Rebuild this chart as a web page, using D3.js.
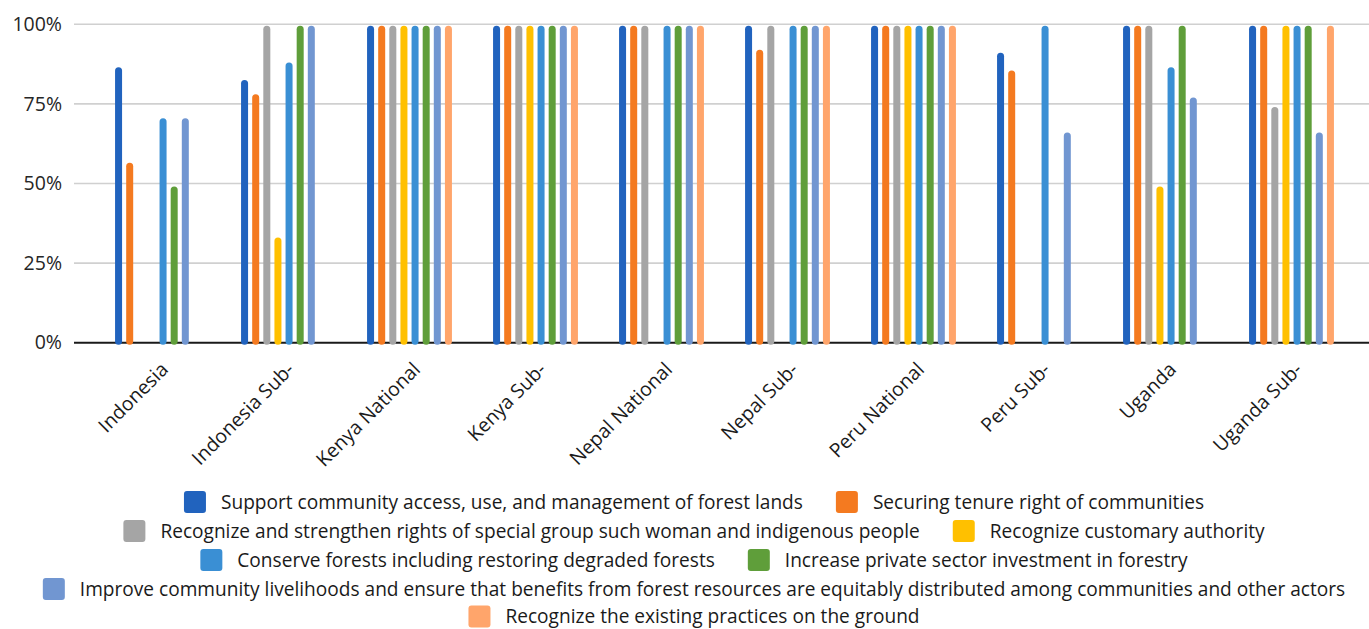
<!DOCTYPE html>
<html>
<head>
<meta charset="utf-8">
<script src="https://cdn.jsdelivr.net/npm/d3@7"></script>
<style>
  html, body { margin: 0; padding: 0; background: #fff; }
  svg { display: block; font-family: "Open Sans", "Noto Sans", sans-serif; }
</style>
</head>
<body>
<svg id="chart" width="1369" height="629"></svg>
<script>
// Sites (x categories)
const categories = [
  "Indonesia", "Indonesia Sub-", "Kenya National", "Kenya Sub-", "Nepal National",
  "Nepal Sub-", "Peru National", "Peru Sub-", "Uganda", "Uganda Sub-"
];

// Policy objectives (series)
const seriesNames = [
  "Support community access, use, and management of forest lands",
  "Securing tenure right of communities",
  "Recognize and strengthen rights of special group such woman and indigenous people",
  "Recognize customary authority",
  "Conserve forests including restoring degraded forests",
  "Increase private sector investment in forestry",
  "Improve community livelihoods and ensure that benefits from forest resources are equitably distributed among communities and other actors",
  "Recognize the existing practices on the ground"
];

const seriesColors = ["#2163be", "#f47a20", "#a5a5a5", "#ffc000", "#3a8fd4", "#5f9e3a", "#7196d1", "#ffa56b"];

// Share of respondents per site, one array per objective (order follows categories)
const supportAccess   = [0.87, 0.83, 1, 1, 1, 1,    1, 0.915, 1,    1];
const securingTenure  = [0.57, 0.785, 1, 1, 1, 0.925, 1, 0.86, 1,    1];
const specialGroups   = [0,    1,    1, 1, 1, 1,    1, 0,    1,    0.745];
const customaryAuth   = [0,    0.335, 1, 1, 0, 0,    1, 0,    0.495, 1];
const conserveForests = [0.71, 0.885, 1, 1, 1, 1,    1, 1,    0.87, 1];
const privateInvest   = [0.495, 1,   1, 1, 1, 1,    1, 0,    1,    1];
const livelihoods     = [0.71, 1,    1, 1, 1, 1,    1, 0.665, 0.775, 0.665];
const existingPract   = [0,    0,    1, 1, 1, 1,    1, 0,    0,    1];

const seriesValues = [supportAccess, securingTenure, specialGroups, customaryAuth,
                      conserveForests, privateInvest, livelihoods, existingPract];

const yTicks = [0, 0.25, 0.5, 0.75, 1];

// Legend rows (indices into seriesNames)
const legendRows = [[0, 1], [2, 3], [4, 5], [6], [7]];

const svg = d3.select("#chart");

const gridLeft = 74, gridRight = 1369;
const x0 = d3.scaleBand().domain(categories).range([94.5, 1354.5]);
const x1 = d3.scaleBand().domain(d3.range(seriesNames.length))
  .range([-44.5, 44.5]).paddingInner(0.37).paddingOuter(0.185);
const y = d3.scaleLinear().domain([0, 1]).range([342.7, 24.3]);

// Gridlines
svg.append("g").selectAll("line")
  .data(yTicks.filter(t => t > 0))
  .join("line")
  .attr("x1", gridLeft).attr("x2", gridRight)
  .attr("y1", d => y(d)).attr("y2", d => y(d))
  .attr("stroke", "#d0d0d0").attr("stroke-width", 1.6);

// Y axis labels
const yAxis = d3.axisLeft(y).tickValues(yTicks).tickFormat(d3.format(".0%")).tickSize(0).tickPadding(0);
const yg = svg.append("g").attr("transform", "translate(62,0)").call(yAxis);
yg.select(".domain").remove();
yg.selectAll("text")
  .attr("font-size", 19.5).attr("fill", "#262626")
  .attr("font-family", "'Open Sans', sans-serif");

// Baseline
svg.append("line")
  .attr("x1", gridLeft).attr("x2", gridRight)
  .attr("y1", y(0)).attr("y2", y(0))
  .attr("stroke", "#1a1a1a").attr("stroke-width", 2);

// Bars
const groups = svg.append("g").selectAll("g")
  .data(categories)
  .join("g")
  .attr("transform", d => `translate(${x0(d) + x0.bandwidth() / 2},0)`);

groups.selectAll("rect")
  .data((c, ci) => seriesValues.map((vals, si) => ({ si, v: vals[ci] })).filter(d => d.v > 0))
  .join("rect")
  .attr("x", d => x1(d.si))
  .attr("width", x1.bandwidth())
  .attr("y", d => y(d.v) + 1.5)
  .attr("height", d => y(0) - y(d.v) + 0.5)
  .attr("rx", x1.bandwidth() / 2)
  .attr("fill", d => seriesColors[d.si]);

// X axis labels, rotated
const xAxis = d3.axisBottom(x0).tickSize(0).tickPadding(0);
const xg = svg.append("g").attr("transform", `translate(0,${y(0)})`).call(xAxis);
xg.select(".domain").remove();
xg.selectAll("text")
  .attr("font-size", 19.5).attr("fill", "#1a1a1a")
  .attr("font-family", "'Open Sans', sans-serif")
  .attr("text-anchor", "end")
  .attr("dy", 0)
  .attr("y", 0)
  .attr("transform", "translate(12,28) rotate(-45)");

// Legend
const legend = svg.append("g");
const rowY = [502, 531, 560, 589, 616.5];
const centerX = 694;
legendRows.forEach((row, ri) => {
  const rg = legend.append("g");
  let cx = 0;
  row.forEach((si, k) => {
    const item = rg.append("g").attr("transform", `translate(${cx},0)`);
    item.append("rect")
      .attr("x", 0).attr("y", rowY[ri] - 11)
      .attr("width", 22).attr("height", 22).attr("rx", 3)
      .attr("fill", seriesColors[si]);
    const t = item.append("text")
      .attr("x", 37).attr("y", rowY[ri])
      .attr("dy", "0.35em")
      .attr("font-size", 19.1).attr("fill", "#1a1a1a")
      .text(seriesNames[si]);
    const w = t.node().getComputedTextLength();
    cx += 37 + w + 33;
  });
  const total = cx - 33;
  rg.attr("transform", `translate(${centerX - total / 2},0)`);
});
</script>
</body>
</html>
